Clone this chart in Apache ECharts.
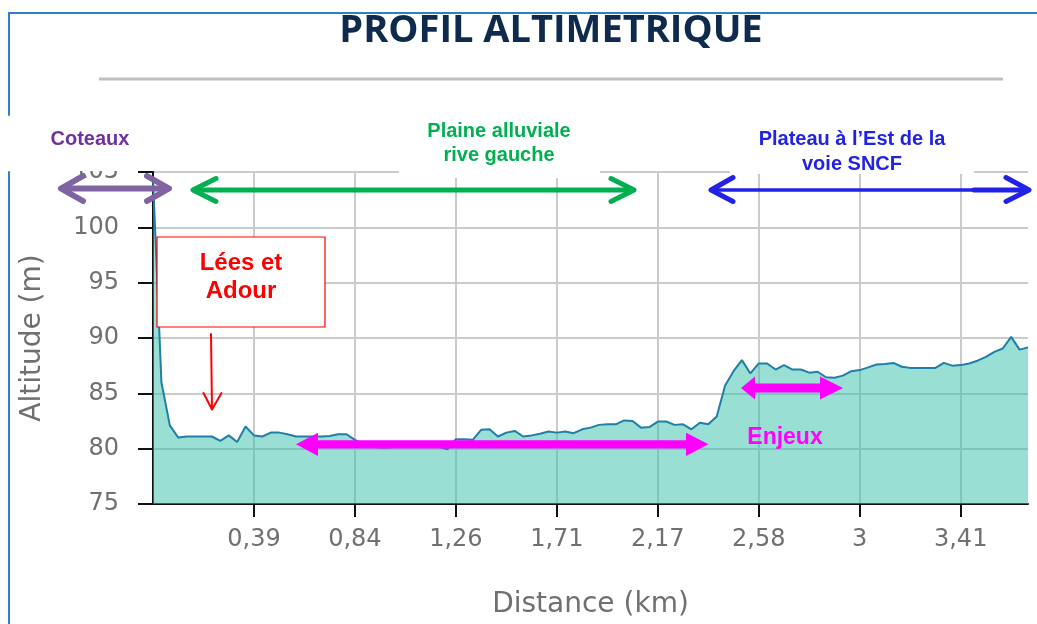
<!DOCTYPE html>
<html><head><meta charset="utf-8">
<script src="https://cdn.jsdelivr.net/npm/echarts@6/dist/echarts.min.js"></script>
<style>html,body{margin:0;padding:0;background:#fff}#c{width:1037px;height:624px}</style>
</head><body><div id="c"></div>
<script>
// ---- data ----
const categories = [
  "0","0,03","0,07","0,1","0,13","0,16","0,2","0,23","0,26","0,29","0,33","0,36","0,39",
  "0,43","0,47","0,5","0,54","0,58","0,62","0,65","0,69","0,73","0,77","0,8","0,84",
  "0,88","0,91","0,95","0,98","1,02","1,05","1,09","1,12","1,16","1,19","1,23","1,26",
  "1,3","1,34","1,37","1,41","1,45","1,49","1,52","1,56","1,6","1,64","1,67","1,71",
  "1,75","1,79","1,83","1,86","1,9","1,94","1,98","2,02","2,06","2,09","2,13","2,17",
  "2,2","2,24","2,27","2,31","2,34","2,38","2,41","2,44","2,48","2,51","2,55","2,58",
  "2,62","2,65","2,69","2,72","2,76","2,79","2,83","2,86","2,9","2,93","2,97","3",
  "3,03","3,07","3,1","3,14","3,17","3,21","3,24","3,27","3,31","3,34","3,38","3,41",
  "3,45","3,48","3,51","3,55","3,58","3,62","3,65","3,69"
];
const altitude = [
  104.5, 86, 82.1, 81.0, 81.1, 81.1, 81.1, 81.1, 80.7, 81.2, 80.6, 82.0, 81.2,
  81.1, 81.45, 81.45, 81.3, 81.1, 81.1, 81.1, 81.1, 81.15, 81.3, 81.3, 80.8,
  80.4, 80.2, 80.1, 80.1, 80.2, 80.25, 80.25, 80.25, 80.25, 80.2, 79.95, 80.85,
  80.85, 80.8, 81.7, 81.75, 81.1, 81.45, 81.6, 81.1, 81.2, 81.35, 81.55, 81.45,
  81.55, 81.4, 81.75, 81.9, 82.15, 82.2, 82.2, 82.55, 82.5, 81.9, 81.95, 82.45,
  82.45, 82.15, 82.2, 81.75, 82.35, 82.2, 82.9, 85.7, 87.0, 88.0, 86.8, 87.7,
  87.7, 87.15, 87.55, 87.15, 87.15, 86.87, 86.95, 86.45, 86.4, 86.6, 87.0, 87.1,
  87.35, 87.6, 87.65, 87.75, 87.4, 87.3, 87.3, 87.3, 87.3, 87.75, 87.5, 87.55,
  87.7, 87.95, 88.3, 88.75, 89.05, 90.1, 88.95, 89.15
];
const yMin = 75, yMax = 105, yStep = 5;
const labelEvery = 12;
const titleText = "PROFIL ALTIMETRIQUE";
const xName = "Distance (km)";
const yName = "Altitude (m)";
const zoneCoteaux = "Coteaux";
const zonePlaine = "Plaine alluviale\nrive gauche";
const zonePlateau = "Plateau à l’Est de la\nvoie SNCF";
const noteLees = "Lées et\nAdour";
const noteEnjeux = "Enjeux";

// ---- helpers for annotation drawing ----
const Z = 100;
function seg(x1, y1, x2, y2, color, w) {
  return { type: 'line', z: Z, shape: { x1, y1, x2, y2 }, style: { stroke: color, lineWidth: w, lineCap: 'round' } };
}
function chev(points, color, w) {
  return { type: 'polyline', z: Z, shape: { points }, style: { stroke: color, lineWidth: w, lineCap: 'round', lineJoin: 'round', fill: null } };
}
function poly(points, color) {
  return { type: 'polygon', z: Z, shape: { points }, style: { fill: color } };
}
function rect(x, y, width, height, fill, stroke, lw) {
  return { type: 'rect', z: Z, shape: { x, y, width, height }, style: { fill, stroke: stroke || null, lineWidth: lw || 0 } };
}
function txt(text, x, y, color, size, lh, family, weight) {
  return { type: 'text', z: Z + 1, style: { text, x, y, fill: color, fontSize: size, fontWeight: weight || 'bold',
    fontFamily: family || 'Liberation Sans', align: 'center', verticalAlign: 'middle', lineHeight: lh || size } };
}

const purple = '#8064a2', green = '#00b050', blue = '#2222e6', magenta = '#ff00ff', red = '#ff0000';
const frame = '#2f7fd0';

const graphics = [
  // white annotation strip & text boxes
  rect(0, 115, 1037, 56, '#ffffff'),
  rect(399, 115, 201, 63, '#ffffff'),
  rect(730, 115, 244, 59, '#ffffff'),
  // frame lines
  seg(9, 13, 1037, 13, frame, 2),
  seg(9, 13, 9, 115, frame, 2),
  seg(9, 172, 9, 624, frame, 2),
  // title + rule
  txt(titleText, 551, 31, '#0e2b4d', 38, 38, 'Open Sans', 'bold'),
  { type: 'line', z: Z, shape: { x1: 99, y1: 79, x2: 1003, y2: 79 }, style: { stroke: '#c0c0c0', lineWidth: 3 } },
  // zone labels
  txt(zoneCoteaux, 90, 139, '#7030a0', 20),
  txt(zonePlaine, 499, 143, green, 20, 24),
  txt(zonePlateau, 852, 152, blue, 20, 25),
  // purple double arrow
  seg(62, 188.5, 168, 188.5, purple, 6),
  chev([[83, 176], [61, 188.5], [83, 201]], purple, 6),
  chev([[147, 176], [169, 188.5], [147, 201]], purple, 6),
  // green double arrow
  seg(194, 190, 633, 190, green, 5),
  chev([[216, 178.5], [193, 190], [216, 201.5]], green, 5),
  chev([[611, 178.5], [634, 190], [611, 201.5]], green, 5),
  // blue double arrow
  seg(712, 190, 974, 190, blue, 3.5),
  seg(974, 190, 1028, 190, blue, 5),
  chev([[733, 177.5], [711, 190], [733, 201.5]], blue, 5),
  chev([[1006, 177.5], [1029, 190], [1006, 201.5]], blue, 5),
  // Lées et Adour box + arrow
  rect(157, 237, 168, 90, '#ffffff', red, 1.2),
  txt(noteLees, 241, 277, red, 24, 28),
  seg(211, 334, 212, 409, red, 2),
  chev([[203.5, 393], [212, 409.5], [221.5, 393]], red, 2),
  // magenta arrows
  poly([[296, 444.3], [318, 432.7], [318, 440.2], [686, 440.2], [686, 432.7], [708.5, 444.3],
        [686, 456], [686, 448.4], [318, 448.4], [318, 456]], magenta),
  poly([[741, 388], [755, 376.5], [755, 383.5], [820, 383.5], [820, 376.5], [843, 388],
        [820, 399.5], [820, 392.5], [755, 392.5], [755, 399.5]], magenta),
  txt(noteEnjeux, 785, 438, magenta, 23)
];

const showAt = (index) => index > 0 && index % labelEvery === 0;
const axisFont = 'DejaVu Sans';
const axisGray = '#707070';
const gridGray = '#cbcbcb';

const chart = echarts.init(document.getElementById('c'), null, { renderer: 'canvas' });
chart.setOption({
  animation: false,
  backgroundColor: '#ffffff',
  grid: { left: 153, right: 9, top: 172, bottom: 119, containLabel: false },
  xAxis: {
    type: 'category',
    data: categories,
    boundaryGap: false,
    name: xName,
    nameLocation: 'middle',
    nameGap: 87,
    nameTextStyle: { fontSize: 28, color: axisGray, fontFamily: axisFont },
    axisLine: { show: true, lineStyle: { color: '#111', width: 2 } },
    axisTick: { show: true, length: 13, interval: showAt, lineStyle: { color: '#111', width: 2 } },
    axisLabel: { interval: showAt, fontSize: 24, color: axisGray, fontFamily: axisFont, margin: 24,
      formatter: (v, i) => (i === 0 ? '' : v) },
    splitLine: { show: true, interval: showAt, lineStyle: { color: gridGray, width: 2 } }
  },
  yAxis: {
    type: 'value',
    min: yMin, max: yMax, interval: yStep,
    name: yName,
    nameLocation: 'middle',
    nameGap: 106,
    nameTextStyle: { fontSize: 28, color: axisGray, fontFamily: axisFont },
    axisLine: { show: true, lineStyle: { color: '#111', width: 2 } },
    axisTick: { show: true, length: 15, lineStyle: { color: '#111', width: 2 } },
    axisLabel: { fontSize: 24, color: axisGray, fontFamily: axisFont, margin: 34 },
    splitLine: { show: true, lineStyle: { color: gridGray, width: 2 } }
  },
  series: [{
    type: 'line',
    data: altitude,
    symbol: 'none',
    smooth: false,
    lineStyle: { color: '#1f7fa6', width: 2 },
    areaStyle: { color: '#33c0aa', opacity: 0.5, origin: 'start' },
    z: 2
  }],
  graphic: graphics
});
</script>
</body></html>
